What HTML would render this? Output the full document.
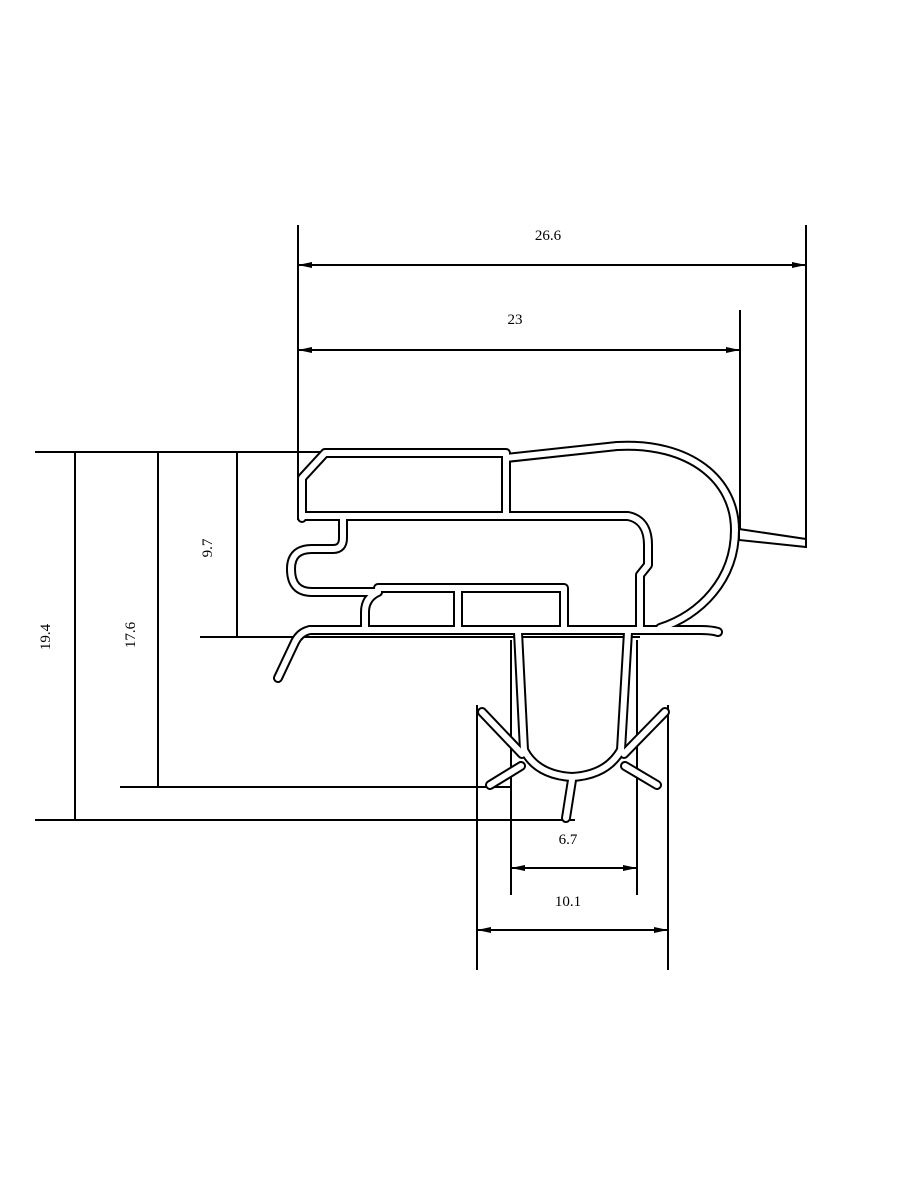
<!DOCTYPE html>
<html><head><meta charset="utf-8"><style>
html,body{margin:0;padding:0;background:#fff;}
svg{display:block;}
text{font-family:"Liberation Serif",serif;font-size:15px;fill:#000;}
</style></head><body>
<svg width="900" height="1200" viewBox="0 0 900 1200" xmlns="http://www.w3.org/2000/svg">
<rect width="900" height="1200" fill="#fff"/>
<g stroke="#000" stroke-width="2" fill="none">
<line x1="298" y1="225" x2="298" y2="520"/>
<line x1="806" y1="225" x2="806" y2="545"/>
<line x1="298" y1="265" x2="806" y2="265"/>
<line x1="740" y1="310" x2="740" y2="530"/>
<line x1="298" y1="350" x2="740" y2="350"/>
<line x1="35" y1="452" x2="510" y2="452"/>
<line x1="200" y1="637" x2="640" y2="637"/>
<line x1="120" y1="787" x2="512" y2="787"/>
<line x1="35" y1="820" x2="575" y2="820"/>
<line x1="75" y1="452" x2="75" y2="820"/>
<line x1="158" y1="452" x2="158" y2="787"/>
<line x1="237" y1="452" x2="237" y2="637"/>
<line x1="477" y1="705" x2="477" y2="970"/>
<line x1="668" y1="705" x2="668" y2="970"/>
<line x1="477" y1="930" x2="668" y2="930"/>
<line x1="511" y1="640" x2="511" y2="895"/>
<line x1="637" y1="640" x2="637" y2="895"/>
<line x1="511" y1="868" x2="637" y2="868"/>
</g>
<g fill="#000">
<polygon points="298,265 312,262 312,268"/><polygon points="806,265 792,262 792,268"/>
<polygon points="298,350 312,347 312,353"/><polygon points="740,350 726,347 726,353"/>
<polygon points="477,930 491,927 491,933"/><polygon points="668,930 654,927 654,933"/>
<polygon points="511,868 525,865 525,871"/><polygon points="637,868 623,865 623,871"/>
</g>
<text x="548" y="240" text-anchor="middle">26.6</text>
<text x="515" y="324" text-anchor="middle">23</text>
<text x="568" y="906" text-anchor="middle">10.1</text>
<text x="568" y="844" text-anchor="middle">6.7</text>
<text transform="translate(50,637) rotate(-90)" text-anchor="middle">19.4</text>
<text transform="translate(135,635) rotate(-90)" text-anchor="middle">17.6</text>
<text transform="translate(212,548) rotate(-90)" text-anchor="middle">9.7</text>
<g fill="none" stroke-linejoin="round" stroke-linecap="round">
<g stroke="#000" stroke-width="10">
<path d="M302,518 L302,478 L325,453 L506,453 L506,516"/>
<path d="M506,458 L617,446 C690,442 735,480 735,530 C735,580 700,615 660,628"/>
<path d="M302,516 L628,516 Q648,520 648,545 L648,565 L640,575 L640,628"/>
<path d="M343,516 L343,538 Q343,549 333,549 L312,549 Q291,549 291,569 Q291,592 312,592 L378,592"/>
<path d="M378,588 L564,588 L564,628 M458,588 L458,628"/>
<path d="M378,592 Q365,598 365,612 L365,628"/>
<path d="M310,630 L700,630 Q712,630 718,632"/>
<path d="M310,630 Q300,632 295,642 L278,678"/>
<path d="M518,632 L524,750 Q537,775 572,777 Q607,775 621,750 L628,632"/>
<path d="M522,754 L482,712 M521,766 L490,785 M624,754 L665,712 M625,766 L657,785 M572,780 L566,818"/>
</g>
<g stroke="#fff" stroke-width="6">
<path d="M302,518 L302,478 L325,453 L506,453 L506,516"/>
<path d="M506,458 L617,446 C690,442 735,480 735,530 C735,580 700,615 660,628"/>
<path d="M302,516 L628,516 Q648,520 648,545 L648,565 L640,575 L640,628"/>
<path d="M343,516 L343,538 Q343,549 333,549 L312,549 Q291,549 291,569 Q291,592 312,592 L378,592"/>
<path d="M378,588 L564,588 L564,628 M458,588 L458,628"/>
<path d="M378,592 Q365,598 365,612 L365,628"/>
<path d="M310,630 L700,630 Q712,630 718,632"/>
<path d="M310,630 Q300,632 295,642 L278,678"/>
<path d="M518,632 L524,750 Q537,775 572,777 Q607,775 621,750 L628,632"/>
<path d="M522,754 L482,712 M521,766 L490,785 M624,754 L665,712 M625,766 L657,785 M572,780 L566,818"/>
</g>
</g>
<polygon points="739,529 806,539 806,547 739,540" fill="#fff" stroke="#000" stroke-width="2"/>
</svg>
</body></html>
